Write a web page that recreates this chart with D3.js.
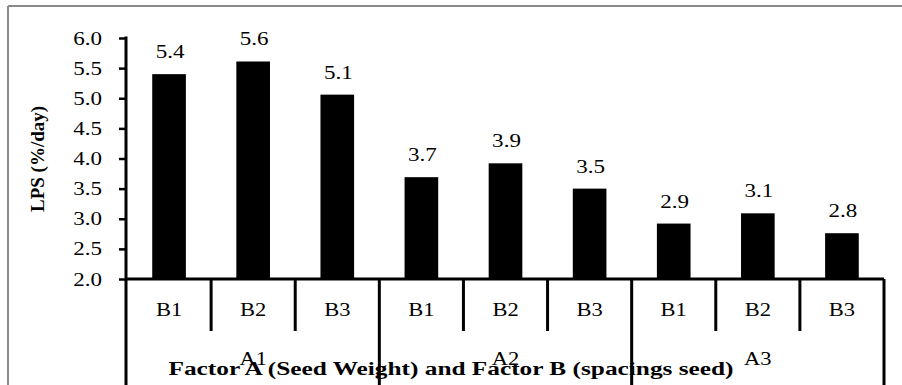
<!DOCTYPE html>
<html>
<head>
<meta charset="utf-8">
<script src="https://cdn.jsdelivr.net/npm/d3@7"></script>
<style>
  html, body { margin: 0; padding: 0; background: #fff; }
  svg { display: block; }
  text { font-family: "Liberation Serif", "Times New Roman", serif; fill: #000; }
</style>
</head>
<body>
<svg id="chart" width="902" height="385"></svg>
<script>
// ---- data ----
const factorA = ["A1", "A2", "A3"];
const factorB = ["B1", "B2", "B3"];
const lpsValues = [5.40, 5.61, 5.06, 3.69, 3.92, 3.50, 2.92, 3.09, 2.76];
const yTicks = [2.0, 2.5, 3.0, 3.5, 4.0, 4.5, 5.0, 5.5, 6.0];
const yTitle = "LPS (%/day)";
const xTitle = "Factor A (Seed Weight) and Factor B (spacings seed)";

(function () {
// ---- build rows ----
const rows = [];
factorA.forEach((a, i) => factorB.forEach((b, j) => {
  rows.push({ id: a + "-" + b, a, b, v: lpsValues[i * factorB.length + j] });
}));

const svg = d3.select("#chart");
const W = 902, H = 385;
const mLeft = 127, mRight = 884, mTop = 38, mBottom = 279;
const sx = 1.28;

// frame
svg.append("line").attr("x1", 8).attr("y1", 6).attr("x2", W).attr("y2", 6)
  .attr("stroke", "#8a8a8a").attr("stroke-width", 2);
svg.append("line").attr("x1", 8).attr("y1", 6).attr("x2", 8).attr("y2", H)
  .attr("stroke", "#8a8a8a").attr("stroke-width", 2);

const x = d3.scaleBand().domain(rows.map(d => d.id)).range([mLeft, mRight])
  .paddingInner(0.6).paddingOuter(0.3);
const y = d3.scaleLinear().domain([2, 6]).range([mBottom, mTop]);

// bars
svg.append("g").selectAll("rect").data(rows).join("rect")
  .attr("x", d => x(d.id))
  .attr("y", d => y(d.v))
  .attr("width", x.bandwidth())
  .attr("height", d => y(2) - y(d.v))
  .attr("fill", "#000");

// value labels
svg.append("g").selectAll("text").data(rows).join("text")
  .attr("transform", d => `translate(${x(d.id) + x.bandwidth() / 2 + 1},${y(d.v) - 16}) scale(${sx},1)`)
  .attr("text-anchor", "middle")
  .style("font-size", "18px")
  .text(d => d3.format(".1f")(d.v));

// y axis
const yAxis = svg.append("g").attr("transform", `translate(${mLeft - 1},0)`)
  .call(d3.axisLeft(y).tickValues(yTicks).tickFormat(d3.format(".1f")).tickSize(7));
yAxis.select(".domain").remove();
yAxis.selectAll(".tick line").attr("stroke", "#000").attr("stroke-width", 2.5);
yAxis.selectAll(".tick text")
  .attr("x", null).attr("dy", null)
  .attr("dominant-baseline", "central")
  .attr("text-anchor", "end")
  .attr("transform", `translate(-24,0) scale(${sx},1)`)
  .style("font-size", "18px")
  .style("font-family", '"Liberation Serif", "Times New Roman", serif');
svg.append("line").attr("x1", mLeft - 1).attr("x2", mLeft - 1)
  .attr("y1", mTop - 1.5).attr("y2", H).attr("stroke", "#000").attr("stroke-width", 3);

// x axis baseline
svg.append("line").attr("x1", mLeft - 1).attr("x2", mRight).attr("y1", mBottom).attr("y2", mBottom)
  .attr("stroke", "#000").attr("stroke-width", 3);

// category labels via axis
const xAxis = svg.append("g").attr("transform", `translate(0,${mBottom})`)
  .call(d3.axisBottom(x).tickSize(0).tickFormat(id => rows.find(r => r.id === id).b));
xAxis.select(".domain").remove();
xAxis.selectAll(".tick text")
  .attr("y", null).attr("dy", null)
  .attr("transform", `translate(0,37) scale(1.25,1)`)
  .style("font-size", "18px")
  .style("font-family", '"Liberation Serif", "Times New Roman", serif');

// boundary ticks
const step = x.step();
const x0 = x(rows[0].id) - x.paddingOuter() * step;
const bounds = d3.range(1, rows.length + 1);
svg.append("g").selectAll("line").data(bounds).join("line")
  .attr("x1", i => x0 + i * step).attr("x2", i => x0 + i * step)
  .attr("y1", mBottom).attr("y2", i => (i % factorB.length === 0) ? H : 331)
  .attr("stroke", "#000").attr("stroke-width", 3);

// group labels
svg.append("g").selectAll("text").data(factorA).join("text")
  .attr("transform", (a, i) => `translate(${x0 + (i * factorB.length + factorB.length / 2) * step},365) scale(1.25,1)`)
  .attr("text-anchor", "middle")
  .style("font-size", "18px")
  .text(a => a);

// x title
svg.append("text")
  .attr("x", 451 - 565 / 2).attr("y", 375)
  .attr("textLength", 565).attr("lengthAdjust", "spacingAndGlyphs")
  .style("font-size", "18px").style("font-weight", "bold")
  .text(xTitle);

// y title
svg.append("text")
  .attr("transform", "translate(37,159) rotate(-90)")
  .attr("text-anchor", "middle")
  .attr("dominant-baseline", "central")
  .style("font-size", "19px").style("font-weight", "bold")
  .text(yTitle);
})();
</script>
</body>
</html>
